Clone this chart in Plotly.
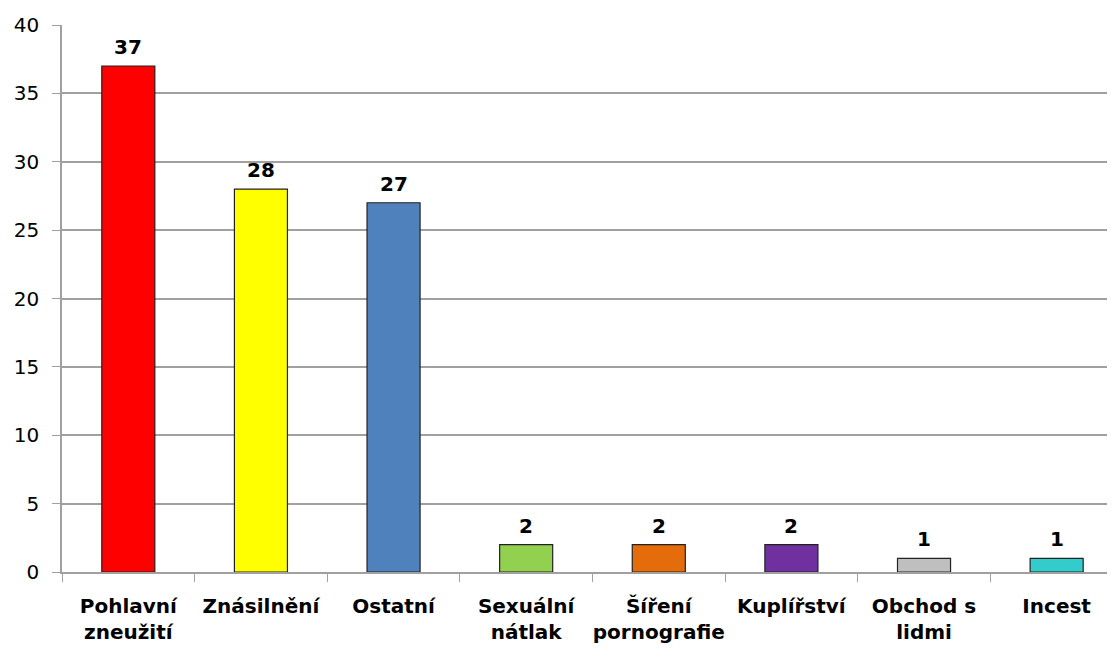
import plotly.graph_objects as go

categories = ["Pohlavní<br>zneužití", "Znásilnění", "Ostatní", "Sexuální<br>nátlak",
              "Šíření<br>pornografie", "Kuplířství", "Obchod s<br>lidmi", "Incest"]
values = [37, 28, 27, 2, 2, 2, 1, 1]
colors = ["#FF0000", "#FFFF00", "#4F81BD", "#92D050", "#E46C0A", "#7030A0", "#BFBFBF", "#33CCCC"]
y_ticks = [0, 5, 10, 15, 20, 25, 30, 35, 40]

x_idx = list(range(len(categories)))

fig = go.Figure()
fig.add_trace(go.Bar(
    x=x_idx, y=values, width=0.4,
    marker=dict(color=colors, line=dict(color="#222222", width=1.2)),
))
for xi, v in zip(x_idx, values):
    fig.add_annotation(x=xi, y=v, text="<b>%d</b>" % v, showarrow=False,
                       yanchor="bottom", yshift=5,
                       font=dict(family="DejaVu Sans", size=20, color="#000000"))

fig.update_layout(
    width=1107, height=640,
    margin=dict(l=54, r=0, t=17, b=76),
    plot_bgcolor="white", paper_bgcolor="white",
    showlegend=False,
)
fig.update_xaxes(
    tickmode="array", tickvals=x_idx, ticktext=["<b>%s</b>" % c for c in categories],
    range=[-0.5, 7.44],
    tickfont=dict(family="DejaVu Sans", size=20, color="#000000"),
    showline=True, linecolor="#A0A0A0", linewidth=1.5,
    ticks="", showgrid=False, ticklabelstandoff=15, automargin=False,
)
fig.update_xaxes(minor=dict(tickmode="array", tickvals=[i + 0.5 for i in range(-1, 8)],
                            ticks="outside", ticklen=8, tickcolor="#A0A0A0", tickwidth=1.2, showgrid=False))
fig.update_yaxes(
    range=[0, 40], tickvals=y_ticks,
    tickfont=dict(family="DejaVu Sans", size=20, color="#000000"),
    showline=True, linecolor="#A0A0A0", linewidth=1.5,
    ticks="outside", ticklen=8, tickcolor="#A0A0A0", tickwidth=1.2,
    showgrid=True, gridcolor="#A0A0A0", gridwidth=1.5,
    zeroline=False, ticklabelstandoff=9, automargin=False,
)

fig.write_html("out.html")
